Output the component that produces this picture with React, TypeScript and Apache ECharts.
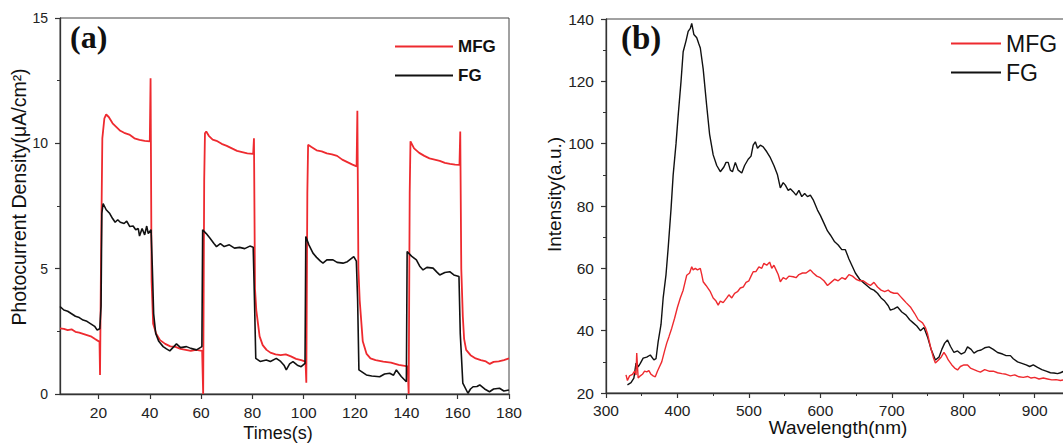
import React, { useEffect, useRef } from "react";
import * as echarts from "echarts";

// ---------- Panel (a): photocurrent vs time ----------
const TIME_TICKS = [20, 40, 60, 80, 100, 120, 140, 160, 180];

const MFG_A: [number, number][] = [
  [5, 2.62], [6.5, 2.6], [8, 2.55], [9.5, 2.58], [11, 2.48], [12.5, 2.45], [14, 2.4], [15.5, 2.35], [17, 2.3], [18.5, 2.2], [19.8, 2.12], [20.4, 2.08],
  [20.6, 0.76], [21.0, 5.5], [21.5, 10.2], [22.3, 11.0], [23, 11.15], [24, 11.05], [25.5, 10.8], [27, 10.65], [28.5, 10.5], [30, 10.42], [32, 10.35], [34, 10.2], [36, 10.14], [38, 10.1], [40, 10.08],
  [40.3, 12.6], [40.7, 4.5], [41.3, 2.8], [42.5, 2.4], [44, 2.15], [46, 2.0], [48, 1.9], [50, 1.88], [52, 1.8], [54, 1.76], [56, 1.72], [58, 1.76], [60.4, 1.72],
  [60.8, 0], [61.2, 8.5], [61.5, 10.4], [62, 10.47], [63, 10.3], [64.5, 10.15], [66, 10.1], [68, 9.98], [70, 9.9], [72, 9.8], [74, 9.7], [76, 9.65], [78, 9.6], [80.3, 9.58],
  [80.6, 10.2], [81, 4.2], [81.5, 3.35], [82.8, 2.3], [84, 1.95], [85.5, 1.76], [87, 1.65], [89, 1.58], [91, 1.55], [93, 1.58], [95, 1.5], [97, 1.4], [99, 1.35], [100.7, 1.29],
  [101, 0.45], [101.4, 8.0], [101.7, 9.94], [103, 9.85], [105, 9.72], [107, 9.68], [109, 9.6], [111, 9.56], [113, 9.5], [115, 9.35], [117, 9.25], [119, 9.15], [120.6, 9.08],
  [120.9, 11.3], [121.3, 5], [121.8, 3.75], [123, 2.1], [124.5, 1.6], [126, 1.42], [128, 1.35], [131, 1.29], [134, 1.25], [137, 1.16], [140.5, 1.1],
  [140.9, 0], [141.3, 8.0], [141.6, 10.08], [143, 9.8], [145, 9.62], [147, 9.5], [149, 9.4], [151, 9.35], [153, 9.3], [155, 9.22], [157, 9.18], [159, 9.15], [160.7, 9.14],
  [161, 10.47], [161.4, 5], [162, 3.09], [162.5, 2.2], [163.3, 1.76], [165, 1.55], [167, 1.42], [169, 1.35], [171, 1.3], [172.5, 1.2], [174, 1.28], [176, 1.3], [178, 1.35], [180, 1.42],
];

const FG_A: [number, number][] = [
  [5, 3.49], [6.5, 3.35], [8, 3.3], [9.5, 3.2], [11, 3.1], [12.5, 3.05], [14, 2.95], [15.5, 2.9], [17, 2.8], [18.5, 2.7], [19.5, 2.55], [20.5, 2.6],
  [21, 3.5], [21.3, 7.2], [21.8, 7.6], [23, 7.35], [24.4, 7.2], [25.5, 7.0], [26.5, 6.85], [27.5, 6.95], [28.5, 6.85], [30, 6.8], [31, 6.9], [32.2, 6.68], [33.5, 6.7], [34.5, 6.55], [35.5, 6.6], [36, 6.3], [37, 6.6], [38, 6.35], [38.8, 6.7], [39.4, 6.4], [40.5, 6.55],
  [41, 5.0], [41.5, 3.2], [42.3, 2.42], [43.5, 2.1], [45.2, 1.89], [46.5, 1.8], [47.8, 1.72], [49, 1.85], [50.4, 2.0], [52, 1.85], [54.3, 1.89], [56, 1.82], [58.2, 1.76], [60.3, 1.89],
  [60.6, 6.55], [62, 6.4], [63.4, 6.22], [65, 6.0], [66, 5.88], [67.5, 6.0], [69, 5.88], [71, 5.95], [73, 5.82], [75, 5.85], [77, 5.8], [79, 5.9], [80.3, 5.85],
  [80.8, 3.75], [81.3, 1.42], [83, 1.3], [85.4, 1.36], [87, 1.3], [89.3, 1.42], [91, 1.3], [92.3, 1.15], [93.2, 0.96], [94.5, 1.2], [95.8, 1.29], [97.5, 1.15], [99, 1.09], [100.5, 1.22],
  [100.8, 6.28], [102, 5.95], [103.6, 5.62], [105, 5.45], [106.5, 5.3], [107.5, 5.22], [109, 5.35], [111.4, 5.35], [113, 5.25], [115.3, 5.22], [117, 5.28], [119.5, 5.48], [120.5, 5.3],
  [121, 3.75], [121.5, 0.96], [124.4, 0.76], [126.5, 0.72], [129.6, 0.69], [131.5, 0.8], [133.5, 0.83], [135, 0.75], [136.1, 0.96], [138, 0.7], [140, 0.49],
  [140.3, 5.68], [142, 5.5], [143.9, 5.35], [145.2, 5.1], [146.5, 4.95], [148, 5.05], [150.4, 5.02], [152, 4.85], [153, 4.75], [155, 4.85], [156.9, 4.88], [158.5, 4.75], [160.5, 4.69],
  [161, 2.42], [162, 0.43], [164, 0.03], [165, 0.2], [166, 0.29], [167.5, 0.3], [168.6, 0.36], [170.5, 0.2], [172.4, 0.09], [174, 0.2], [176.3, 0.23], [178, 0.12], [180, 0.16],
];

// ---------- Panel (b): intensity vs wavelength ----------
const FG_B: [number, number][] = [
  [330, 22.6], [335, 23.3], [339, 24.8], [342, 29.6], [345, 28.4], [348, 29.5], [352, 31.2], [357, 31.5], [362, 32.2], [367, 30.6], [370, 31], [373, 36.5], [377, 42], [380, 50.5], [384, 58], [387, 66.5], [391, 79], [394, 90], [398, 100], [401, 109], [405, 120], [408, 129.5], [412, 133], [415, 136], [418, 137], [420, 138.6], [423, 135], [427, 134], [430, 132], [432, 130.7], [436, 124], [441, 112], [445, 103], [450, 96.4], [455, 93], [460, 91], [465, 92.5], [468, 94], [471, 94], [474, 91.5], [477, 91], [481, 94], [485, 91.5], [490, 90.6], [494, 93], [499, 95], [503, 96], [506, 99.5], [509, 100.6], [512, 98.5], [516, 99.5], [520, 99], [525, 97.4], [530, 95.5], [535, 93], [540, 90], [544, 85.8], [548, 87.5], [551, 86.7], [555, 85], [558, 85.5], [562, 84.6], [566, 83.5], [570, 85], [574, 83], [578, 84], [582, 83], [586, 83.5], [590, 82], [596, 78.7], [600, 77], [605, 74.5], [610, 72], [614, 70.7], [620, 68.5], [625, 67.5], [630, 66], [635, 66], [640, 63], [645, 60.5], [649, 58.5], [655, 56.5], [660, 55.5], [665, 54.5], [670, 53.5], [675, 53], [680, 52], [685, 50.5], [690, 49.5], [695, 48], [698, 46.6], [703, 47], [708, 47.6], [714, 46], [720, 45], [725, 43.5], [730, 42.5], [735, 41.5], [740, 40], [745, 41], [750, 38], [755, 34], [761, 30.6], [766, 31.5], [770, 34], [774, 36], [778, 37], [782, 35], [787, 33], [792, 33.5], [797, 32.5], [802, 33], [806, 34.8], [811, 34], [815, 32.8], [820, 33.5], [825, 33.8], [830, 34.5], [836, 34.8], [842, 34], [848, 33], [855, 32.5], [860, 32], [866, 32], [870, 31], [876, 30], [882, 29.5], [888, 29], [893, 28.5], [898, 29], [904, 28.2], [910, 27.5], [916, 27], [922, 26.5], [927, 26.4], [932, 26.2], [936, 26.5], [941, 27],
];

const MFG_B: [number, number][] = [
  [328, 25.8], [330, 24], [333, 25.5], [337, 26], [340, 27], [342, 25.8], [343, 32.8], [345, 24.8], [348, 25.5], [351, 26], [354, 27], [357, 26.8], [360, 27.2], [363, 26], [366, 25.5], [369, 25.2], [372, 27], [375, 28.5], [378, 30], [382, 33.5], [385, 36], [388, 38], [392, 40.8], [396, 44], [400, 47.5], [404, 50.5], [408, 53], [413, 57.8], [417, 58.5], [420, 60.5], [422, 59.5], [425, 60], [428, 59.5], [432, 60], [434, 58], [436, 55.7], [440, 54.5], [446, 52.5], [450, 50.5], [454, 49.5], [457, 48.2], [460, 49.5], [464, 49], [469, 50.5], [472, 51.5], [476, 50.5], [480, 52], [484, 52.5], [488, 53.7], [492, 54], [496, 55.5], [500, 56], [503, 57.5], [506, 58.9], [510, 59], [514, 60.5], [518, 60], [521, 61.6], [525, 61], [529, 62], [532, 60], [535, 61], [538, 59.5], [541, 58], [544, 55.7], [548, 57], [552, 56.5], [556, 57.5], [562, 57.3], [566, 57], [570, 58], [575, 58.5], [580, 58.5], [586, 59.5], [590, 58.5], [595, 57.5], [600, 57], [605, 56], [610, 54.5], [615, 55.5], [620, 56.5], [625, 56], [630, 57], [635, 56.5], [640, 58], [645, 57.5], [650, 56.5], [655, 56], [660, 56], [666, 55], [670, 54.5], [675, 55.5], [680, 54], [685, 53], [690, 52.5], [695, 53], [698, 52.4], [703, 52], [708, 52], [712, 51], [716, 50], [720, 49], [726, 47.6], [732, 45.5], [737, 43.5], [743, 42.5], [747, 41], [750, 39], [754, 35], [758, 31.5], [761, 29.6], [765, 30.5], [769, 31.5], [773, 33], [776, 32], [779, 30.6], [784, 29], [788, 28], [792, 27.4], [796, 28.5], [801, 29], [806, 29], [810, 28], [815, 27.5], [820, 27], [824, 26.7], [830, 27.5], [836, 27], [842, 27], [848, 26.5], [854, 26.2], [860, 26], [866, 25.5], [872, 25.8], [878, 25.2], [884, 25], [890, 25.3], [895, 24.8], [900, 25], [906, 24.5], [912, 24.8], [918, 24.5], [924, 24.2], [930, 24.3], [936, 24], [941, 24.2],
];

const RED = "#ee2a2f";
const BLACK = "#111111";
const AXIS = "#333333";
const FONT = "Liberation Sans";

export default function App() {
  const ref = useRef<HTMLDivElement>(null);

  useEffect(() => {
    if (!ref.current) return;
    const chart = echarts.init(ref.current, null, { renderer: "svg" });

    const axisLine = { show: true, onZero: false, lineStyle: { color: AXIS, width: 1.3 } };
    const labelStyle = { color: "#222", fontFamily: FONT };

    const option: any = {
      animation: false,
      textStyle: { fontFamily: FONT },
      grid: [
        { left: 60, top: 18, width: 449, height: 376, show: true, borderColor: "#444", borderWidth: 1, outerBoundsMode: "none", containLabel: false },
        { left: 606, top: 19, width: 458, height: 374, show: true, borderColor: "#444", borderWidth: 1, outerBoundsMode: "none", containLabel: false },
      ],
      xAxis: [
        {
          gridIndex: 0, type: "value", min: 5, max: 180,
          axisLine,
          axisTick: { show: true, length: 5, customValues: TIME_TICKS, lineStyle: { color: AXIS, width: 1.2 } },
          axisLabel: { ...labelStyle, customValues: TIME_TICKS, fontSize: 15.5, margin: 10 },
          splitLine: { show: false },
          name: "Times(s)", nameLocation: "middle", nameGap: 30, nameMoveOverlap: false,
          nameTextStyle: { fontSize: 18, color: "#111", fontFamily: FONT, padding: [0, 13, 0, 0] },
        },
        {
          gridIndex: 1, type: "value", min: 300, max: 941, interval: 100,
          axisLine,
          axisTick: { show: true, length: 5, lineStyle: { color: AXIS, width: 1.2 } },
          minorTick: { show: true, splitNumber: 2, length: 3, lineStyle: { color: AXIS } },
          axisLabel: { ...labelStyle, fontSize: 15.5, margin: 9, showMaxLabel: false },
          splitLine: { show: false },
          name: "Wavelength(nm)", nameLocation: "middle", nameGap: 25, nameMoveOverlap: false,
          nameTextStyle: { fontSize: 19, color: "#111", fontFamily: FONT, padding: [0, 0, 0, 6] },
        },
      ],
      yAxis: [
        {
          gridIndex: 0, type: "value", min: 0, max: 15, interval: 5,
          axisLine,
          axisTick: { show: true, length: 5, lineStyle: { color: AXIS, width: 1.2 } },
          minorTick: { show: true, splitNumber: 2, length: 3, lineStyle: { color: AXIS } },
          axisLabel: { ...labelStyle, fontSize: 14, margin: 12 },
          splitLine: { show: false },
          name: "Photocurrent Density(μA/cm²)", nameLocation: "middle", nameGap: 28,
          nameTextStyle: { fontSize: 19.5, color: "#111", fontFamily: FONT, padding: [0, 0, 0, 18] },
        },
        {
          gridIndex: 1, type: "value", min: 20, max: 140, interval: 20,
          axisLine,
          axisTick: { show: true, length: 5, lineStyle: { color: AXIS, width: 1.2 } },
          minorTick: { show: true, splitNumber: 2, length: 3, lineStyle: { color: AXIS } },
          axisLabel: { ...labelStyle, fontSize: 15.5, margin: 12 },
          splitLine: { show: false },
          name: "Intensity(a.u.)", nameLocation: "middle", nameGap: 40,
          nameTextStyle: { fontSize: 19, color: "#111", fontFamily: FONT, padding: [0, 0, 0, 23] },
        },
      ],
      legend: [
        {
          data: ["MFG"], left: 395, top: 38, padding: 0, icon: "rect", itemWidth: 58, itemHeight: 2, selectedMode: false,
          textStyle: { fontSize: 17, fontWeight: "bold", color: "#111", fontFamily: FONT },
        },
        {
          data: ["FG"], left: 395, top: 67, padding: 0, icon: "rect", itemWidth: 58, itemHeight: 2, selectedMode: false,
          textStyle: { fontSize: 17, fontWeight: "bold", color: "#111", fontFamily: FONT },
        },
        {
          data: ["MFG"], left: 951, top: 32, padding: 0, icon: "rect", itemWidth: 50, itemHeight: 2, selectedMode: false,
          textStyle: { fontSize: 23, color: "#111", fontFamily: FONT },
        },
        {
          data: ["FG"], left: 951, top: 61, padding: 0, icon: "rect", itemWidth: 50, itemHeight: 2, selectedMode: false,
          textStyle: { fontSize: 23, color: "#111", fontFamily: FONT },
        },
      ],
      graphic: [
        { type: "text", left: 70, top: 21, style: { text: "(a)", font: 'bold 32px "Liberation Serif"', fill: "#111" } },
        { type: "text", left: 621, top: 21, style: { text: "(b)", font: 'bold 33px "Liberation Serif"', fill: "#111" } },
      ],
      series: [
        {
          name: "MFG", type: "line", xAxisIndex: 0, yAxisIndex: 0, data: MFG_A,
          showSymbol: false, symbol: "none", color: RED, lineStyle: { color: RED, width: 1.8 },
        },
        {
          name: "FG", type: "line", xAxisIndex: 0, yAxisIndex: 0, data: FG_A,
          showSymbol: false, symbol: "none", color: BLACK, lineStyle: { color: BLACK, width: 1.6 },
        },
        {
          name: "MFG", type: "line", xAxisIndex: 1, yAxisIndex: 1, data: MFG_B,
          showSymbol: false, symbol: "none", color: RED, lineStyle: { color: RED, width: 1.4 }, z: 3,
        },
        {
          name: "FG", type: "line", xAxisIndex: 1, yAxisIndex: 1, data: FG_B,
          showSymbol: false, symbol: "none", color: BLACK, lineStyle: { color: BLACK, width: 1.4 }, z: 2,
        },
      ],
    };

    chart.setOption(option);
    return () => chart.dispose();
  }, []);

  return (
    <div
      ref={ref}
      style={{ position: "absolute", left: 0, top: 0, width: 1063, height: 443, background: "#fff" }}
    />
  );
}
